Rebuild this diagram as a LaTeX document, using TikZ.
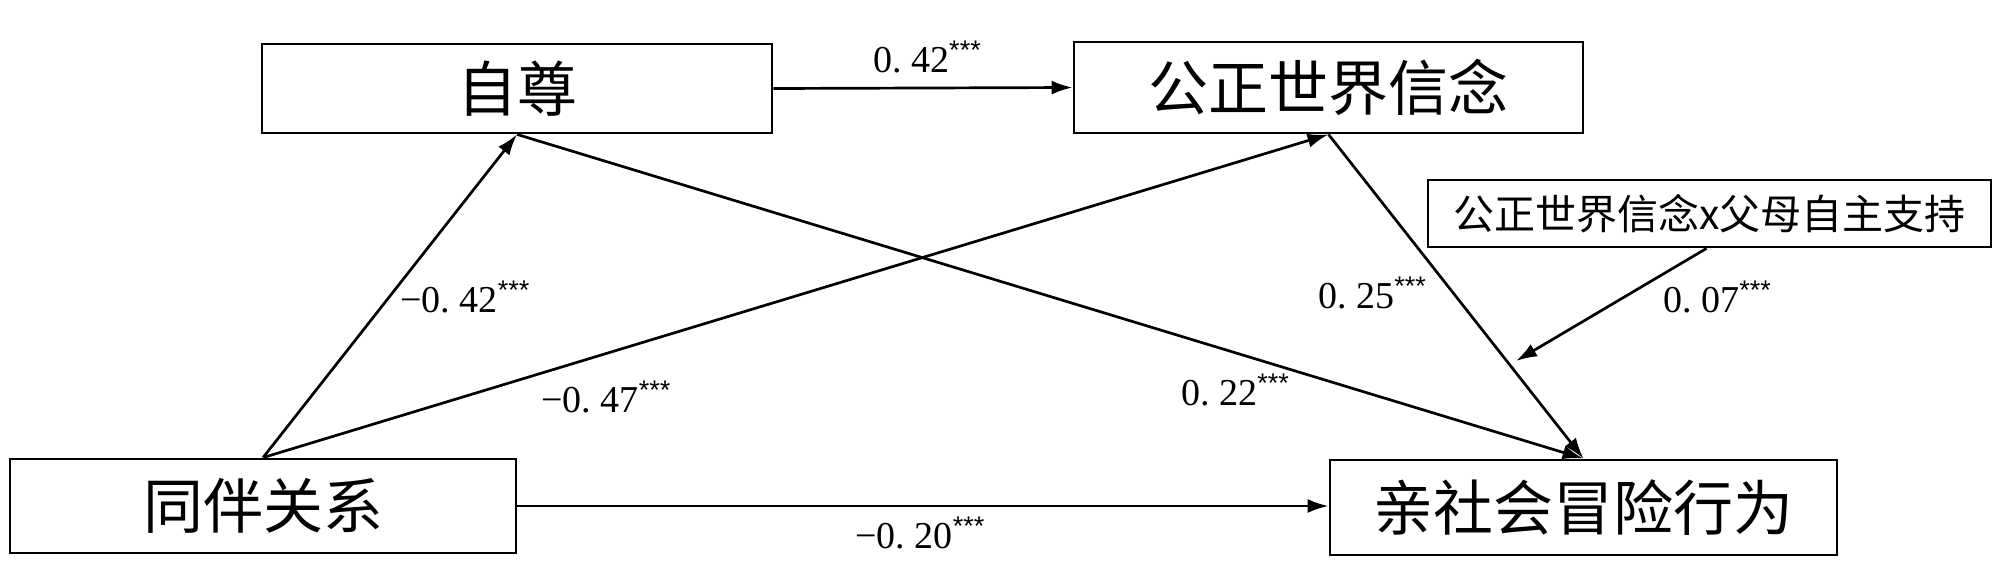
\documentclass[tikz,border=0pt]{standalone}
\usepackage{fontspec}
\setmainfont{Liberation Serif}
\newfontfamily\cjk{Noto Sans CJK SC}
\newfontfamily\astfont{Liberation Sans}
\usetikzlibrary{arrows.meta}
\newcommand\stars{\raisebox{0.32em}{\astfont\fontsize{27}{27}\selectfont ***}}
\tikzset{
  varbox/.style={draw, line width=2.8pt, rectangle, inner sep=0pt, font=\cjk\fontsize{60}{70}\selectfont},
  modbox/.style={draw, line width=2.8pt, rectangle, inner sep=0pt, font=\cjk\fontsize{41}{48}\selectfont},
  path/.style={line width=2.7pt, -{Latex[length=21pt,width=14pt]}},
  coef/.style={font=\fontsize{38}{44}\selectfont, inner sep=0pt}
}
\begin{document}
\begin{tikzpicture}[x=1pt,y=-1pt]
\path[use as bounding box, fill=white] (0,0) rectangle (2000,582);
\node[varbox, minimum width=510pt, minimum height=89pt] (zz) at (517,88.5) {自尊};
\node[varbox, minimum width=509pt, minimum height=91pt] (gz) at (1328.5,87.5) {公正世界信念};
\node[varbox, minimum width=506pt, minimum height=94pt] (tb) at (263,506) {同伴关系};
\node[varbox, minimum width=507pt, minimum height=95pt] (qs) at (1583.5,507.5) {亲社会冒险行为};
\node[modbox, minimum width=563pt, minimum height=67pt] (md) at (1709.5,213.5) {公正世界信念x父母自主支持};
\coordinate (mt) at (1516,361);

\draw[path] (zz.east) -- (gz.west);
\draw[path] (tb.north) -- (zz.south);
\draw[path] (tb.north) -- (gz.south);
\draw[path] (zz.south) -- (qs.north);
\draw[path] (gz.south) -- (qs.north);
\draw[path] (tb.east) -- (tb.east -| qs.west);
\draw[path] ([xshift=-3pt]md.south) -- (mt);

\node[coef] (c1) at (927,57) {0.\ 42\stars};
\node[coef] (c2) at (465,297) {−0.\ 42\stars};
\node[coef] (c3) at (606,397) {−0.\ 47\stars};
\node[coef] (c4) at (1372,293) {0.\ 25\stars};
\node[coef] (c5) at (1235,390) {0.\ 22\stars};
\node[coef] (c6) at (1717,297) {0.\ 07\stars};
\node[coef] (c7) at (920,533) {−0.\ 20\stars};
\end{tikzpicture}
\end{document}
